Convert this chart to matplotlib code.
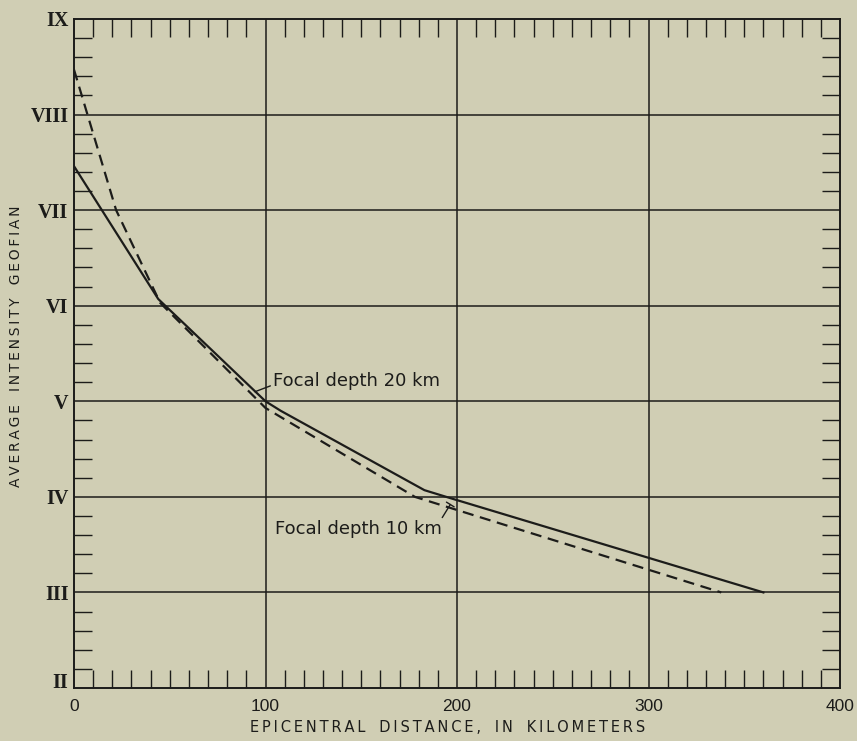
import matplotlib
matplotlib.use('Agg')
import matplotlib.pyplot as plt
import matplotlib.transforms as mtransforms
from matplotlib.ticker import MultipleLocator, FixedLocator

# curves
dist_20 = [0, 44, 100, 108, 183, 196, 360]
int_20 = [7.46, 6.07, 5.0, 4.9, 4.07, 3.99, 3.0]
dist_10 = [0, 22, 45, 100, 178, 338]
int_10 = [8.47, 7.0, 6.03, 4.93, 4.0, 3.0]

x_ticks = [0, 100, 200, 300, 400]
y_ticks = [2, 3, 4, 5, 6, 7, 8, 9]
y_labels = ['II', 'III', 'IV', 'V', 'VI', 'VII', 'VIII', 'IX']

bg = '#d0ceb4'
ink = '#1c1c1a'


def spaced(s):
    # letter-spaced caps like the original lettering
    return '\u2009'.join(s)


fig = plt.figure(figsize=(8.57, 7.41), dpi=100, facecolor=bg)
ax = fig.add_axes([74 / 857, 53 / 741, 766 / 857, 669 / 741])
ax.set_facecolor(bg)

ax.set_xlim(0, 400)
ax.set_ylim(2, 9)

# grid at the major values
for xv in x_ticks[1:-1]:
    ax.axvline(xv, color=ink, lw=1.1, zorder=1)
for yv in y_ticks[1:-1]:
    ax.axhline(yv, color=ink, lw=1.1, zorder=1)

ax.plot(dist_20, int_20, color=ink, lw=1.6, zorder=3)
line10, = ax.plot(dist_10, int_10, color=ink, lw=1.6, zorder=3)
line10.set_dashes((5, 3))

ax.xaxis.set_major_locator(FixedLocator(x_ticks))
ax.yaxis.set_major_locator(FixedLocator(y_ticks))
ax.set_yticklabels(y_labels)
ax.xaxis.set_minor_locator(MultipleLocator(10))
ax.yaxis.set_minor_locator(MultipleLocator(0.2))

ax.tick_params(which='major', length=0)
ax.tick_params(axis='x', which='major', labelsize=12.5, pad=8, colors=ink)
ax.tick_params(axis='y', which='major', pad=4, colors=ink)
ax.tick_params(which='minor', direction='in', length=13, width=1.0,
               top=True, right=True, color=ink)
for lab in ax.get_yticklabels():
    lab.set_fontfamily('Liberation Serif')
    lab.set_fontweight('bold')
    lab.set_fontsize(14.5)
# bottom label sits a little above the corner
low = ax.get_yticklabels()[0]
low.set_transform(low.get_transform() +
                  mtransforms.ScaledTranslation(0, 7 / 100, fig.dpi_scale_trans))
for lab in ax.get_xticklabels():
    lab.set_fontfamily('Liberation Sans')

for s in ax.spines.values():
    s.set_linewidth(1.4)
    s.set_color(ink)

fig.text(448 / 857, 1 - 727 / 741,
         '   '.join(spaced(w) for w in ['EPICENTRAL', 'DISTANCE,', 'IN', 'KILOMETERS']),
         fontsize=10.5, family='DejaVu Sans', color=ink,
         ha='center', va='center')
fig.text(16 / 857, 1 - 346 / 741,
         '   '.join(spaced(w) for w in ['AVERAGE', 'INTENSITY', 'GEOFIAN']),
         fontsize=10, family='DejaVu Sans', color=ink, rotation=90,
         ha='center', va='center')

ax.annotate('Focal depth 20 km', xy=(94.5, 5.1), xytext=(104, 5.21),
            fontsize=13, family='DejaVu Sans', color=ink, va='center',
            arrowprops=dict(arrowstyle='-', color=ink, lw=1.0,
                            shrinkA=0, shrinkB=0, relpos=(0, 0.3)))
ax.annotate('Focal depth 10 km', xy=(196.5, 3.92), xytext=(105, 3.66),
            fontsize=13, family='DejaVu Sans', color=ink, va='center',
            arrowprops=dict(arrowstyle='-[, widthB=0.25, lengthB=0', color=ink,
                            lw=1.0, shrinkA=0, shrinkB=0,
                            relpos=(0.955, 0.45)))

fig.savefig('out.png', dpi=100, facecolor=bg)
